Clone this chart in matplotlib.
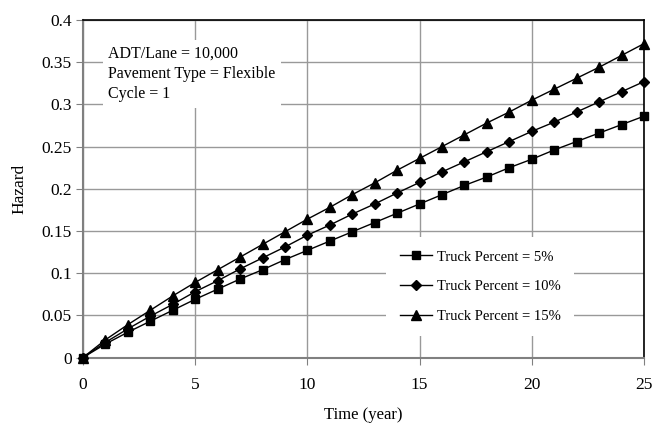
import matplotlib
matplotlib.use("Agg")
import matplotlib.pyplot as plt

years = list(range(0, 26))
truck_5 = [0, 0.016, 0.030, 0.043, 0.056, 0.069, 0.081, 0.093, 0.104, 0.116, 0.127,
           0.138, 0.149, 0.160, 0.171, 0.182, 0.193, 0.204, 0.214, 0.225, 0.235,
           0.246, 0.256, 0.266, 0.276, 0.286]
truck_10 = [0, 0.018, 0.034, 0.049, 0.063, 0.078, 0.091, 0.105, 0.118, 0.131, 0.145,
            0.157, 0.170, 0.182, 0.195, 0.2075, 0.220, 0.232, 0.244, 0.256, 0.268,
            0.279, 0.291, 0.303, 0.315, 0.327]
truck_15 = [0, 0.021, 0.039, 0.056, 0.073, 0.089, 0.104, 0.119, 0.134, 0.149, 0.164,
            0.178, 0.193, 0.207, 0.222, 0.236, 0.250, 0.264, 0.278, 0.291, 0.305,
            0.318, 0.331, 0.344, 0.358, 0.372]
series_labels = ["Truck Percent = 5%", "Truck Percent = 10%", "Truck Percent = 15%"]
x_ticks = [0, 5, 10, 15, 20, 25]
y_ticks = [0, 0.05, 0.1, 0.15, 0.2, 0.25, 0.3, 0.35, 0.4]
y_tick_labels = ["0", "0.05", "0.1", "0.15", "0.2", "0.25", "0.3", "0.35", "0.4"]
info_text = "ADT/Lane = 10,000\nPavement Type = Flexible\nCycle = 1"

plt.rcParams['font.family'] = ['Liberation Serif', 'DejaVu Serif']

fig = plt.figure(figsize=(6.54, 4.24), dpi=100)
ax = fig.add_axes([83/654, 1 - 357.5/424, (644-83)/654, (357.5-20)/424])

markers = ['s', 'D', '^']
msizes = [6, 4.8, 6.5]
for vals, lab, m, ms in zip([truck_5, truck_10, truck_15], series_labels, markers, msizes):
    ax.plot(years, vals, color='black', lw=1.0, marker=m, markersize=ms,
            markerfacecolor='black', markeredgecolor='black', label=lab, clip_on=False, zorder=3)

ax.set_xlim(0, 25)
ax.set_ylim(0, 0.4)
ax.set_xticks(x_ticks)
ax.set_xticklabels([str(t) for t in x_ticks])
ax.set_yticks(y_ticks)
ax.set_yticklabels(y_tick_labels)
ax.grid(True, color='#999999', lw=1.0)
ax.set_axisbelow(True)
ax.tick_params(axis='both', direction='out', length=5, color='#808080', labelsize=12.5)
ax.tick_params(axis='x', pad=9)
ax.tick_params(axis='y', pad=3)

for s in ['top', 'right']:
    ax.spines[s].set_color('black')
    ax.spines[s].set_linewidth(1.2)
for s in ['left', 'bottom']:
    ax.spines[s].set_color('#808080')
    ax.spines[s].set_linewidth(1.5)

ax.set_xlabel("Time (year)", fontsize=12, labelpad=10)
ax.set_ylabel("Hazard", fontsize=12.5, labelpad=10)

ax.text(0.045, 0.925, info_text, transform=ax.transAxes, fontsize=11.5,
        va='top', ha='left', linespacing=1.38,
        bbox=dict(facecolor='white', edgecolor='none', pad=4), zorder=2)

leg = ax.legend(loc='upper left', bbox_to_anchor=(0.528, 0.378), frameon=True,
                fontsize=10.5, handlelength=2.2, labelspacing=1.13, borderpad=0.9,
                handletextpad=0.35)
leg.get_frame().set_edgecolor('none')
leg.get_frame().set_facecolor('white')
leg.get_frame().set_alpha(1)

fig.savefig("out.png", dpi=100)
